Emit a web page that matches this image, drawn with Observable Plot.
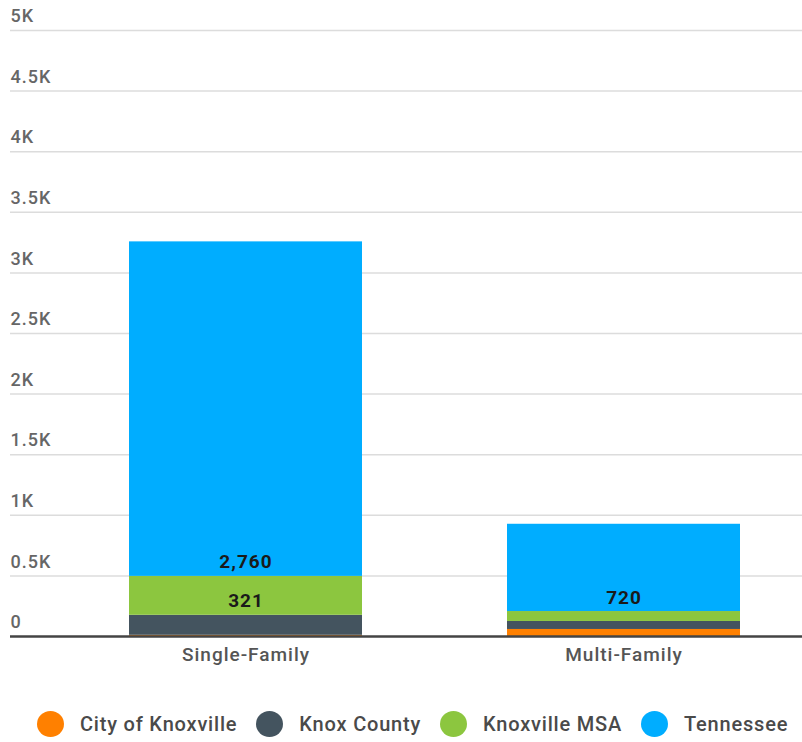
<!DOCTYPE html>
<html>
<head>
<meta charset="utf-8">
<script src="https://cdn.jsdelivr.net/npm/d3@7"></script>
<script src="https://cdn.jsdelivr.net/npm/@observablehq/plot@0.6"></script>
<style>
  body { margin: 0; background: #fff; font-family: Roboto, "Noto Sans", sans-serif; }
  #chart svg text { letter-spacing: 1px; }
  #legend { display: flex; justify-content: flex-start; align-items: center; margin-top: 31px; padding-left: 37px; }
  .item { display: flex; align-items: center; font-size: 20px; font-weight: 500; letter-spacing: 0.8px; color: #4a4a4a; margin-right: 19px; }
  .item:last-child { margin-right: 0; }
  .dot { width: 27px; height: 26px; border-radius: 50%; margin-right: 16px; display: inline-block; }
</style>
</head>
<body>
<div id="chart"></div>
<div id="legend"></div>
<script>
const categories = ["Single-Family", "Multi-Family"];
const regions = ["City of Knoxville", "Knox County", "Knoxville MSA", "Tennessee"];
const colors = ["#ff8000", "#44545f", "#8cc63f", "#00adff"];
const cityValues = [10, 58];
const knoxCountyValues = [165, 66];
const msaValues = [321, 82];
const tennesseeValues = [2760, 720];
const yTicks = [0, 500, 1000, 1500, 2000, 2500, 3000, 3500, 4000, 4500, 5000];
const labelMin = 200;

const series = [cityValues, knoxCountyValues, msaValues, tennesseeValues];
const data = [];
categories.forEach((c, i) => {
  regions.forEach((r, j) => data.push({type: c, region: r, value: series[j][i]}));
});

const fmt = d3.format(",");
const chart = Plot.plot({
  width: 802,
  height: 680,
  marginLeft: 10,
  marginRight: 0,
  marginTop: 30,
  marginBottom: 44,
  style: {fontFamily: "Roboto, sans-serif", background: "#fff"},
  x: {domain: categories, range: [129, 740], paddingInner: 0.384, paddingOuter: 0, label: null},
  y: {domain: [0, 5000], label: null},
  color: {domain: regions, range: colors},
  marks: [
    Plot.ruleY(yTicks.filter(d => d > 0), {stroke: "#dcdcdc", strokeWidth: 1.5}),
    Plot.barY(data, {x: "type", y: "value", fill: "region", z: "region", order: regions}),
    Plot.text(data, Plot.stackY1({
      x: "type", y: "value", z: "region", order: regions,
      text: d => d.value > labelMin ? fmt(d.value) : "",
      dy: -14, fontSize: 19, fontWeight: "bold", fill: "#1a1a1a"
    })),
    Plot.ruleY([0], {stroke: "#444", strokeWidth: 2.5}),
    Plot.axisY({ticks: yTicks, tickSize: 0, tickPadding: 0, textAnchor: "start", dy: -14,
      tickFormat: d => d === 0 ? "0" : (d / 1000) + "K", fontSize: 18, fontWeight: 500, fill: "#666"}),
    Plot.axisX({tickSize: 0, tickPadding: 11, fontSize: 19, fontWeight: 500, fill: "#555"})
  ]
});
document.getElementById("chart").appendChild(chart);

const legend = document.getElementById("legend");
regions.forEach((r, i) => {
  const item = document.createElement("div");
  item.className = "item";
  const dot = document.createElement("span");
  dot.className = "dot";
  dot.style.background = colors[i];
  const label = document.createElement("span");
  label.textContent = r;
  item.appendChild(dot);
  item.appendChild(label);
  legend.appendChild(item);
});
</script>
</body>
</html>
